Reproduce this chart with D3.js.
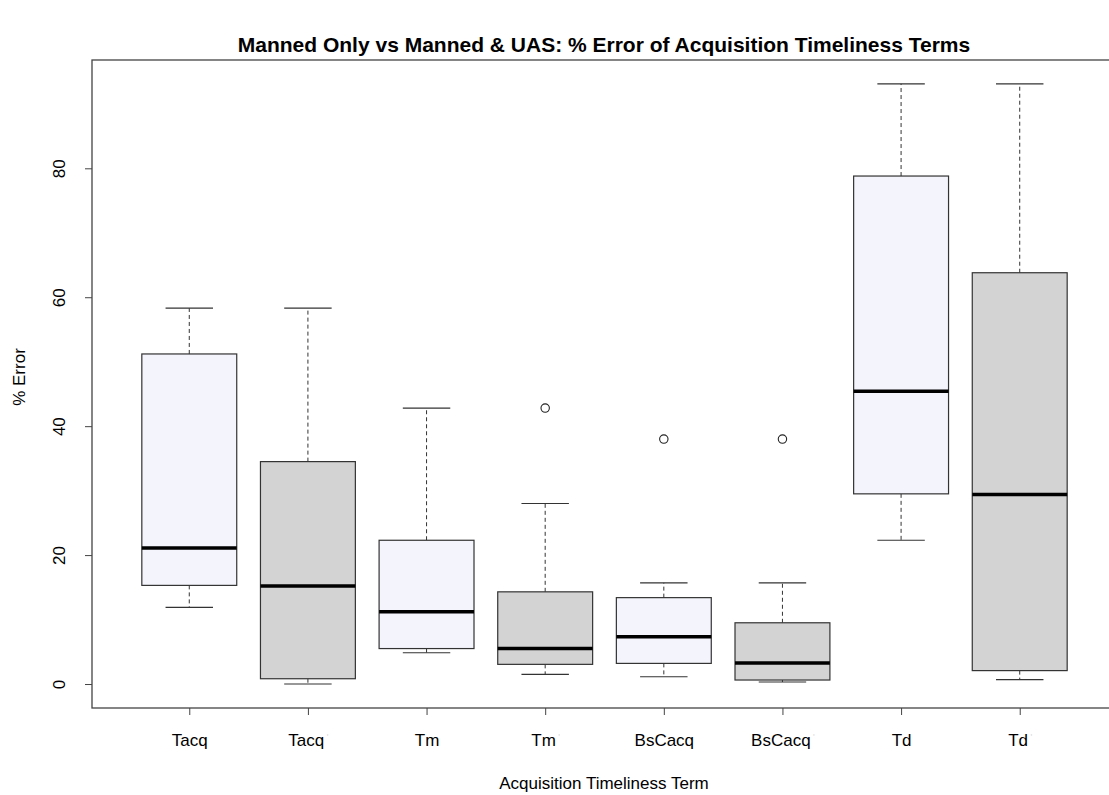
<!DOCTYPE html>
<html>
<head>
<meta charset="utf-8">
<script src="https://cdn.jsdelivr.net/npm/d3@7"></script>
<style>
  body { margin: 0; background: #fff; }
  svg { font-family: "Liberation Sans", Arial, Helvetica, sans-serif; }
</style>
</head>
<body>
<svg id="chart" width="1109" height="795"></svg>
<script>
// box statistics
const categories = ['Tacq', 'Tacq', 'Tm', 'Tm', 'BsCacq', 'BsCacq', 'Td', 'Td'];
const groups = ['manned', 'uas', 'manned', 'uas', 'manned', 'uas', 'manned', 'uas'];
const lowerWhisker = [11.9, 0.0, 4.85, 1.5, 1.13, 0.31, 22.3, 0.68];
const q1 = [15.3, 0.82, 5.5, 3.05, 3.2, 0.62, 29.5, 2.08];
const median = [21.1, 15.2, 11.2, 5.5, 7.34, 3.26, 45.4, 29.4];
const q3 = [51.2, 34.5, 22.3, 14.3, 13.4, 9.5, 78.8, 63.8];
const upperWhisker = [58.3, 58.3, 42.8, 28.0, 15.7, 15.7, 93.1, 93.1];
const outliers = [[], [], [], [42.8], [38.0], [38.0], [], []];
const yTicks = [0, 20, 40, 60, 80];

const fills = { manned: '#f4f4fd', uas: '#d3d3d3' };

const margin = { left: 92, right: 1117, top: 60, bottom: 708 };
const svg = d3.select('#chart');

const x = d3.scaleLinear().domain([0.18, categories.length + 0.82]).range([margin.left, margin.right]);
const y = d3.scaleLinear().domain([-3.72, 96.8]).range([margin.bottom, margin.top]);
const unit = x(2) - x(1);
const boxW = unit * 0.8;
const capW = unit * 0.4;

const data = categories.map((c, i) => ({
  i: i + 1, name: c, group: groups[i],
  lo: lowerWhisker[i], q1: q1[i], med: median[i], q3: q3[i], hi: upperWhisker[i], out: outliers[i]
}));

// title
svg.append('text')
  .attr('x', 604).attr('y', 52)
  .attr('text-anchor', 'middle')
  .style('font-weight', 'bold').style('font-size', '21px')
  .text('Manned Only vs Manned & UAS: % Error of Acquisition Timeliness Terms');

const boxes = svg.append('g').attr('class', 'boxes')
  .selectAll('g').data(data).join('g');

// whiskers (dashed)
boxes.append('line')
  .attr('x1', d => x(d.i)).attr('x2', d => x(d.i))
  .attr('y1', d => y(d.q3)).attr('y2', d => y(d.hi))
  .attr('stroke', '#333').attr('stroke-dasharray', '4,3');
boxes.append('line')
  .attr('x1', d => x(d.i)).attr('x2', d => x(d.i))
  .attr('y1', d => y(d.q1)).attr('y2', d => y(d.lo))
  .attr('stroke', '#333').attr('stroke-dasharray', '4,3');

// staples
boxes.selectAll('.cap').data(d => [d.lo, d.hi].map(v => ({ i: d.i, v })))
  .join('line').attr('class', 'cap')
  .attr('x1', d => x(d.i) - capW / 2).attr('x2', d => x(d.i) + capW / 2)
  .attr('y1', d => y(d.v)).attr('y2', d => y(d.v))
  .attr('stroke', '#333').attr('stroke-width', 1.2);

// boxes
boxes.append('rect')
  .attr('x', d => x(d.i) - boxW / 2).attr('width', boxW)
  .attr('y', d => y(d.q3)).attr('height', d => y(d.q1) - y(d.q3))
  .attr('fill', d => fills[d.group])
  .attr('stroke', '#333').attr('stroke-width', 1.2);

// medians
boxes.append('line')
  .attr('x1', d => x(d.i) - boxW / 2).attr('x2', d => x(d.i) + boxW / 2)
  .attr('y1', d => y(d.med)).attr('y2', d => y(d.med))
  .attr('stroke', '#000').attr('stroke-width', 3.5);

// outliers
boxes.selectAll('circle').data(d => d.out.map(v => ({ i: d.i, v })))
  .join('circle')
  .attr('cx', d => x(d.i)).attr('cy', d => y(d.v)).attr('r', 4.2)
  .attr('fill', 'none').attr('stroke', '#222').attr('stroke-width', 1.1);

// frame
svg.append('rect')
  .attr('x', margin.left).attr('y', margin.top)
  .attr('width', margin.right - margin.left).attr('height', margin.bottom - margin.top)
  .attr('fill', 'none').attr('stroke', '#444').attr('stroke-width', 1.3);

// y axis
const yAxis = svg.append('g')
  .attr('transform', `translate(${margin.left},0)`)
  .call(d3.axisLeft(y).tickValues(yTicks).tickSize(7).tickPadding(0));
yAxis.select('.domain').remove();
yAxis.selectAll('.tick line').attr('stroke', '#444');
yAxis.selectAll('.tick text')
  .attr('x', 0).attr('dy', null)
  .attr('transform', 'translate(-27,0) rotate(-90)')
  .attr('text-anchor', 'middle')
  .style('font-size', '17px').style('font-family', 'Liberation Sans, Arial, sans-serif')
  .attr('fill', '#000');

// x axis
const xAxis = svg.append('g')
  .attr('transform', `translate(0,${margin.bottom})`)
  .call(d3.axisBottom(x).tickValues(d3.range(1, categories.length + 1)).tickSize(7).tickPadding(19)
    .tickFormat(d => categories[d - 1]));
xAxis.select('.domain').remove();
xAxis.selectAll('.tick line').attr('stroke', '#444');
xAxis.selectAll('.tick text')
  .style('font-size', '17px').style('font-family', 'Liberation Sans, Arial, sans-serif')
  .attr('fill', '#000');
// faint second-group markers after the UAS labels
xAxis.selectAll('.tick text').filter(d => groups[d - 1] === 'uas')
  .append('tspan').attr('fill', '#d8d8d8').style('font-size', '9px').attr('dy', '-6').text(" '");

// axis titles
svg.append('text')
  .attr('x', 604).attr('y', 789).attr('text-anchor', 'middle')
  .style('font-size', '17px').text('Acquisition Timeliness Term');
svg.append('text')
  .attr('transform', 'translate(25,377) rotate(-90)').attr('text-anchor', 'middle')
  .style('font-size', '17px').text('% Error');
</script>
</body>
</html>
